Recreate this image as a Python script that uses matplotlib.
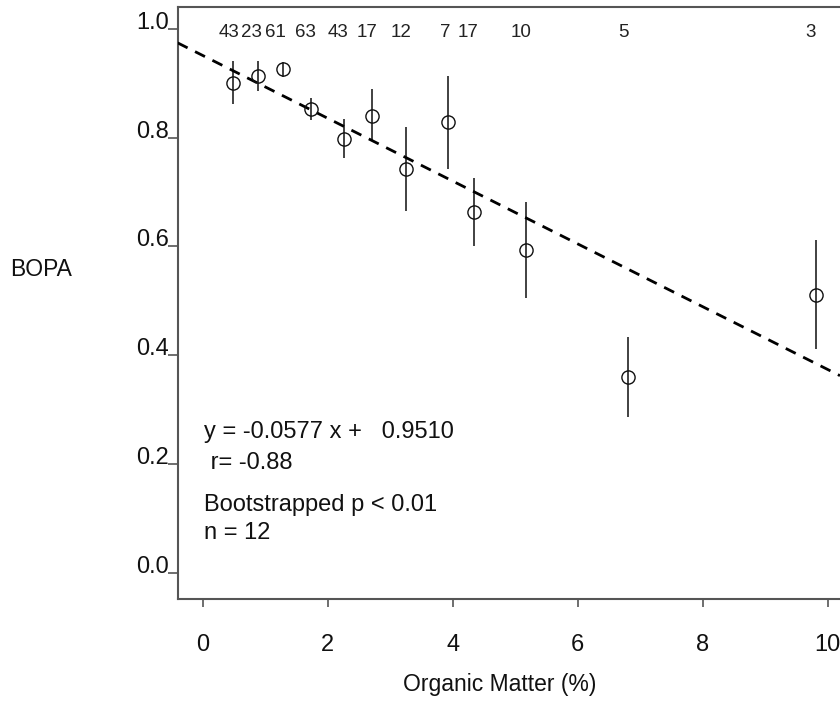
import numpy as np
from matplotlib import pyplot as plt

plt.rcParams['font.family'] = ['Liberation Sans', 'DejaVu Sans']

# -- DATA --:
organic = [0.48, 0.88, 1.29, 1.74, 2.26, 2.71, 3.26, 3.92, 4.35, 5.18, 6.81, 9.81]  # (%)
bopa = [0.900, 0.914, 0.926, 0.853, 0.797, 0.839, 0.743, 0.828, 0.664, 0.593, 0.360, 0.511]
err_hi = [0.940, 0.941, 0.939, 0.873, 0.835, 0.889, 0.820, 0.914, 0.726, 0.681, 0.433, 0.612]
err_lo = [0.862, 0.885, 0.911, 0.833, 0.762, 0.795, 0.666, 0.743, 0.601, 0.505, 0.287, 0.412]
counts = ["43", "23", "61", "63", "43", "17", "12", "7", "17", "10", "5", "3"]
count_x = [0.42, 0.78, 1.17, 1.65, 2.17, 2.63, 3.18, 3.88, 4.24, 5.09, 6.73, 9.73]

SLOPE = -0.0577
INTERCEPT = 0.9510

x_ticks = [0, 2, 4, 6, 8, 10]
y_ticks = [0.0, 0.2, 0.4, 0.6, 0.8, 1.0]

# -- PLOTTING --:
fig = plt.figure(figsize=(8.4, 7.01), dpi=100)
ax = fig.add_axes([0.2115, 0.1455, 0.7885, 0.8445])

XMIN, XMAX = -0.4, 10.2
ax.set_xlim(XMIN, XMAX)
ax.set_ylim(-0.048, 1.04)

# fitted line
fx = np.array([XMIN, XMAX])
ax.plot(fx, SLOPE * fx + INTERCEPT, c='black', linestyle=(0, (4, 3)), lw=2.0, zorder=3)

# error bars (no caps)
ax.vlines(organic, err_lo, err_hi, colors='#333333', lw=1.3, zorder=2)
ax.plot(organic, bopa, 'o', mfc='none', mec='#111111', ms=9.5, mew=1.0, zorder=4)

# counts along the top
for cx, c in zip(count_x, counts):
    ax.text(cx, 0.994, c, ha='center', va='center', fontsize=13.5, color='#222222')

# stats text
stats = [
    (0.259, "y = -0.0577 x +   0.9510"),
    (0.202, " r= -0.88"),
    (0.125, "Bootstrapped p < 0.01"),
    (0.074, "n = 12"),
]
for sy, s in stats:
    ax.text(0.02, sy, s, ha='left', va='center', fontsize=17, color='#111111')

ax.set_xticks(x_ticks)
ax.set_xticklabels([str(t) for t in x_ticks])
ax.set_yticks(y_ticks)
ax.set_yticklabels(["%.1f" % t for t in y_ticks])
for lbl in ax.get_yticklabels():
    lbl.set_verticalalignment('baseline')

ax.tick_params(axis='y', direction='out', length=7, width=1.2, pad=-1,
               labelsize=17, colors='#555555', labelcolor='#111111')
ax.tick_params(axis='x', direction='out', length=6, width=1.2, pad=19,
               labelsize=17, colors='#555555', labelcolor='#111111')

for side in ['left', 'top', 'bottom']:
    ax.spines[side].set_color('#555555')
    ax.spines[side].set_linewidth(1.5)
ax.spines['right'].set_visible(False)

fig.text(0.012, 0.615, "BOPA", ha='left', va='center', fontsize=16.5, color='#111111')
fig.text(0.595, 0.023, "Organic Matter (%)", ha='center', va='center', fontsize=16.5,
         color='#111111')

fig.savefig("out.png", dpi=100)
